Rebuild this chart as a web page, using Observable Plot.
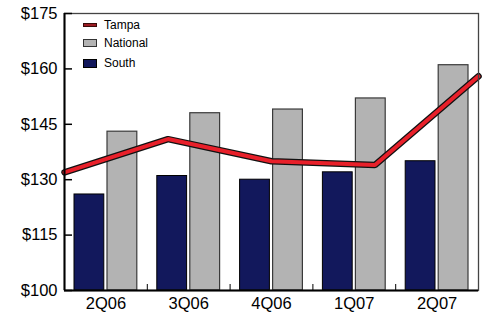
<!DOCTYPE html>
<html><head><meta charset="utf-8">
<script src="https://cdn.jsdelivr.net/npm/d3@7"></script>
<script src="https://cdn.jsdelivr.net/npm/@observablehq/plot@0.6"></script>
<style>
html,body{margin:0;padding:0;background:#fff;}
#wrap{position:relative;width:483px;height:318px;font-family:"Liberation Sans",Arial,sans-serif;}
#legend{position:absolute;left:83px;top:19px;font-size:12px;color:#000;line-height:1;}
#legend .row{display:flex;align-items:center;height:12px;}
#legend .sw{width:14px;margin-right:7px;box-sizing:border-box;}
</style></head>
<body><div id="wrap"><div id="legend"></div></div>
<script>
const quarters = ["2Q06", "3Q06", "4Q06", "1Q07", "2Q07"];
const south = [126, 131, 130, 132, 135];
const national = [143, 148, 149, 152, 161];
const tampa = [132, 141, 135, 134, 158];
const yTicks = [100, 115, 130, 145, 160, 175];
const seriesNames = ["Tampa", "National", "South"];

const yMin = 100, yMax = 175;
const n = quarters.length;
const barRows = quarters.map((q, i) => ({q, i, south: south[i], national: national[i]}));
const lineRows = quarters.map((q, i) => ({q, pos: i * n / (n - 1), v: tampa[i]}));

const chart = Plot.plot({
  width: 483, height: 318,
  marginLeft: 64, marginRight: 5, marginTop: 13, marginBottom: 28,
  style: {fontFamily: '"Liberation Sans", Arial, sans-serif', background: "#fff"},
  x: {domain: [0, n], axis: null},
  y: {domain: [yMin, yMax], axis: null},
  marks: [
    Plot.rectY(barRows, {x1: "i", x2: d => d.i + 1, y1: yMin, y2: "south", insetLeft: 10, insetRight: 43, fill: "#12185c", stroke: "#000", strokeWidth: 1}),
    Plot.rectY(barRows, {x1: "i", x2: d => d.i + 1, y1: yMin, y2: "national", insetLeft: 43, insetRight: 10, fill: "#b3b3b3", stroke: "#3a3a3a", strokeWidth: 1.2}),
    Plot.line(lineRows, {x: "pos", y: "v", stroke: "#111", strokeWidth: 6.5, strokeLinejoin: "miter"}),
    Plot.line(lineRows, {x: "pos", y: "v", stroke: "#e8202a", strokeWidth: 4, strokeLinejoin: "miter"}),
    Plot.frame({stroke: "#444", strokeWidth: 1.3}),
    Plot.axisY({ticks: yTicks, tickFormat: d => "$" + d, tickSize: -8, tickPadding: 15, fontSize: 16.5, color: "#000", strokeWidth: 1.5}),
    Plot.axisX({ticks: quarters.map((q, i) => i + 1).slice(0, -1), tickFormat: () => "", tickSize: -6, strokeWidth: 1}),
    Plot.axisX({ticks: quarters.map((q, i) => i + 0.5), tickFormat: v => quarters[Math.floor(v)], tickSize: 0, tickPadding: 7, fontSize: 16.5, color: "#000"}),
    Plot.ruleX([0], {stroke: "#000", strokeWidth: 2}),
    Plot.ruleY([yMin], {stroke: "#000", strokeWidth: 2})
  ]
});
document.getElementById("wrap").prepend(chart);

const legend = document.getElementById("legend");
const sw = {
  Tampa: '<div class="sw" style="height:4px;background:#9b1b22;border:1px solid #3a0a0a"></div>',
  National: '<div class="sw" style="height:8px;background:#b3b3b3;border:1px solid #333"></div>',
  South: '<div class="sw" style="height:9px;background:#12185c;border:1px solid #000"></div>'
};
const gaps = {Tampa: "6px", National: "8px", South: "0px"};
seriesNames.forEach(s => {
  const r = document.createElement("div");
  r.className = "row";
  r.style.marginBottom = gaps[s];
  r.innerHTML = sw[s] + "<span>" + s + "</span>";
  legend.appendChild(r);
});
</script></body></html>
